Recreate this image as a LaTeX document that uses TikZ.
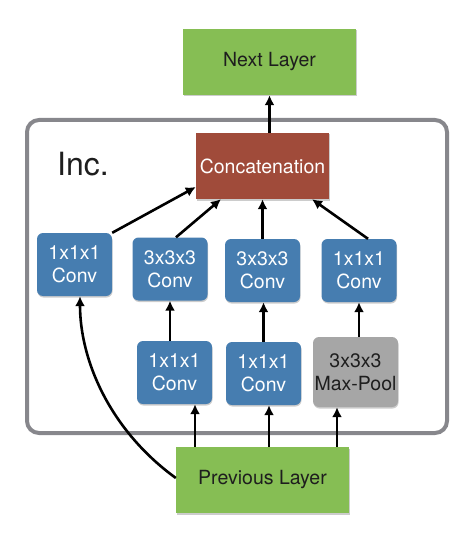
\documentclass[tikz,border=0pt]{standalone}
\usepackage{fontspec}
\setmainfont{TeX Gyre Heros}
\usetikzlibrary{arrows.meta,calc,shadows}
\definecolor{convblue}{RGB}{70,125,176}
\definecolor{layergreen}{RGB}{134,190,84}
\definecolor{concatred}{RGB}{160,75,58}
\definecolor{poolgrey}{RGB}{166,166,166}
\definecolor{framegrey}{RGB}{135,135,140}
\definecolor{textdark}{RGB}{30,30,30}
\tikzset{
  softshadow/.style={drop shadow={shadow xshift=0.5bp,shadow yshift=-1.5bp,opacity=0.2,fill=black}},
  boxtext/.style={align=center,font=\fontsize{19.5bp}{23bp}\selectfont,inner sep=0pt,softshadow},
  convbox/.style={boxtext,fill=convblue,text=white,rounded corners=6bp,minimum width=75bp,minimum height=63bp},
  poolbox/.style={boxtext,fill=poolgrey,text=textdark,rounded corners=6bp,minimum width=85bp,minimum height=70bp},
  layerbox/.style={boxtext,fill=layergreen,text=textdark,minimum width=173bp,minimum height=66bp},
  concatbox/.style={boxtext,fill=concatred,text=white,minimum width=133bp,minimum height=66bp},
  arr/.style={-{Latex[length=10bp,width=10bp]},line width=2.6bp,black},
}
\begin{document}
\begin{tikzpicture}[x=1bp,y=-1bp]
\useasboundingbox (0,0) rectangle (476,551);
% outer frame
\draw[framegrey,line width=4bp,rounded corners=12bp] (27,120) rectangle (447,433);
\node[font=\fontsize{32bp}{36bp}\selectfont,text=textdark,inner sep=0pt] (inc) at (83,164) {Inc.};
% nodes
\node[layerbox] (next) at (269.5,62) {Next Layer};
\node[concatbox] (concat) at (262.5,166) {Concatenation};
\node[convbox] (c1) at (74.5,264.5) {1x1x1\\Conv};
\node[convbox] (c2) at (170,269) {3x3x3\\Conv};
\node[convbox] (c3) at (262.5,270.5) {3x3x3\\Conv};
\node[convbox] (c4) at (359,270.5) {1x1x1\\Conv};
\node[convbox] (c5) at (174.5,372.5) {1x1x1\\Conv};
\node[convbox] (c6) at (263.5,373.5) {1x1x1\\Conv};
\node[poolbox] (pool) at (355.5,372) {3x3x3\\Max-Pool};
\node[layerbox] (prev) at (262.5,480) {Previous Layer};
% arrows to next
\draw[arr] (concat.north -| next.south) -- (next.south);
% first row to concat
\draw[arr] (c1.north east) -- ([yshift=-21bp]concat.west);
\draw[arr] ([xshift=6bp]c2.north) -- ([xshift=-41.5bp]concat.south);
\draw[arr] (c3.north) -- (c3.north |- concat.south);
\draw[arr] ([xshift=9bp]c4.north) -- ([xshift=49.5bp]concat.south);
% second row to first row
\draw[arr] (c2.south |- c5.north) -- (c2.south);
\draw[arr] (c6.north) -- (c6.north |- c3.south);
\draw[arr] (c4.south |- pool.north) -- (c4.south);
% previous layer to second row
\coordinate (t5) at ([xshift=20.5bp]c5.south);
\coordinate (t6) at ([xshift=5.5bp]c6.south);
\coordinate (tp) at ([xshift=-18.5bp]pool.south);
\draw[arr] (prev.north -| t5) -- (t5);
\draw[arr] (prev.north -| t6) -- (t6);
\draw[arr] (prev.north -| tp) -- (tp);
% skip curve
\coordinate (pw) at ([yshift=2bp]prev.west);
\draw[arr] (pw) .. controls ($(pw)+(-66,-48)$) and ($(c1.south)+(5.5,64)$) .. ([xshift=5.5bp]c1.south);
\end{tikzpicture}
\end{document}
